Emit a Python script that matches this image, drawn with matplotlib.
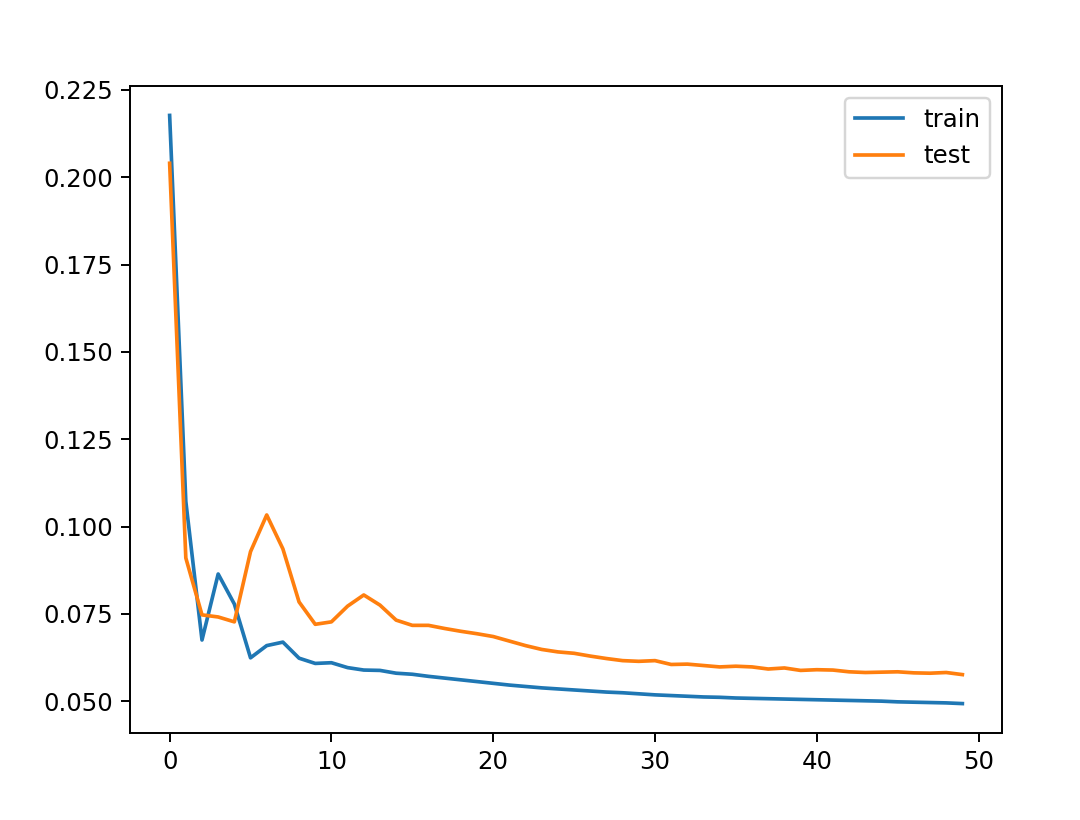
import matplotlib
matplotlib.use("Agg")
import matplotlib.pyplot as plt

epochs = list(range(50))

train = [0.2177, 0.1072, 0.0675, 0.0864, 0.0778, 0.0624, 0.0659, 0.0669, 0.0623, 0.0608,
         0.0610, 0.0596, 0.0589, 0.0588, 0.0580, 0.0577, 0.0571, 0.0566, 0.0561, 0.0556,
         0.0551, 0.0546, 0.0542, 0.0538, 0.0535, 0.0532, 0.0529, 0.0526, 0.0524, 0.0521,
         0.0518, 0.0516, 0.0514, 0.0512, 0.0511, 0.0509, 0.0508, 0.0507, 0.0506, 0.0505,
         0.0504, 0.0503, 0.0502, 0.0501, 0.0500, 0.0498, 0.0497, 0.0496, 0.0495, 0.0493]

test = [0.2040, 0.0910, 0.0747, 0.0741, 0.0727, 0.0928, 0.1033, 0.0936, 0.0784, 0.0720,
        0.0727, 0.0772, 0.0804, 0.0775, 0.0732, 0.0717, 0.0717, 0.0708, 0.0700, 0.0693,
        0.0685, 0.0672, 0.0659, 0.0648, 0.0641, 0.0637, 0.0629, 0.0622, 0.0616, 0.0614,
        0.0616, 0.0605, 0.0606, 0.0602, 0.0598, 0.0600, 0.0598, 0.0592, 0.0595, 0.0588,
        0.0590, 0.0589, 0.0584, 0.0582, 0.0583, 0.0584, 0.0581, 0.0580, 0.0582, 0.0576]

dpi = 175.8
fig = plt.figure(figsize=(1080 / dpi, 820 / dpi), dpi=dpi)
W, H = 1080, 820
left, right, top, bottom = 130, 1002, 86, 733
ax = fig.add_axes([left / W, 1 - bottom / H, (right - left) / W, (bottom - top) / H])

ax.plot(epochs, train, label="train")
ax.plot(epochs, test, label="test")
ax.legend(loc="upper right")

fig.savefig("out.png", dpi=dpi)
